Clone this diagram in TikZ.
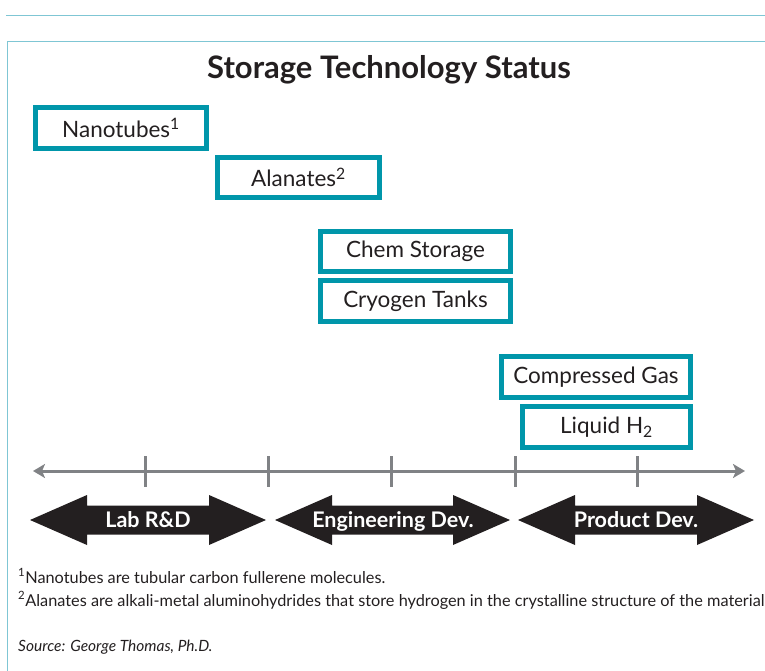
\documentclass[tikz,border=0pt]{standalone}
\usepackage{fontspec}
\setmainfont{Lato}
\usetikzlibrary{arrows.meta}
\definecolor{frameblue}{HTML}{7FC6D4}
\definecolor{teal}{HTML}{0096AA}
\definecolor{ink}{HTML}{231F20}
\definecolor{axisgray}{HTML}{808285}
\tikzset{
  techbox/.style={draw=teal, line width=5pt, fill=white, inner sep=0pt, text=ink, font=\fontsize{22.5}{24}\selectfont},
  phase/.style={fill=ink},
  phasetext/.style={text=white, anchor=base, inner sep=0pt, font=\bfseries\fontsize{21.5}{23}\selectfont},
  foot/.style={anchor=base west, inner sep=0pt, text=ink, font=\fontsize{16.3}{18}\selectfont},
}
\newcommand{\phasearrow}[2]{%
  \fill[phase] (#1,520) -- (#1+57,495) -- (#1+57,505.5) -- (#2-57,505.5) -- (#2-57,495) -- (#2,520) -- (#2-57,545) -- (#2-57,534.5) -- (#1+57,534.5) -- (#1+57,545) -- cycle;}
\begin{document}
\begin{tikzpicture}[x=1pt,y=-1pt]
\useasboundingbox (0,0) rectangle (765,671);
\draw[frameblue, line width=1.5pt] (6,15.5) -- (765,15.5);
\draw[frameblue, line width=1.5pt] (765,41.5) -- (7.5,41.5) -- (7.5,671);
\node[text=ink, font=\bfseries\fontsize{31}{33}\selectfont] (title) at (389,70) {Storage Technology Status};
\node[techbox, minimum width=171pt, minimum height=41pt] (nano) at (121,128) {Nanotubes\textsuperscript{1}};
\node[techbox, minimum width=162pt, minimum height=40pt] (alan) at (298.5,177.5) {Alanates\textsuperscript{2}};
\node[techbox, minimum width=190pt, minimum height=40pt] (chem) at (415.5,251.5) {Chem Storage};
\node[techbox, minimum width=190pt, minimum height=41pt] (cryo) at (415.5,301) {Cryogen Tanks};
\node[techbox, minimum width=189pt, minimum height=41pt] (comp) at (596,377) {Compressed Gas};
\node[techbox, minimum width=168pt, minimum height=41pt] (liq) at (606.5,427) {Liquid H\textsubscript{2}};
\coordinate (axl) at (33,471);
\coordinate (axr) at (745,471);
\draw[axisgray, line width=3pt, {Stealth[length=12pt,width=14pt,inset=3pt]}-{Stealth[length=12pt,width=14pt,inset=3pt]}] (axl) -- (axr);
\foreach \x in {145,268,391,515,637} \draw[axisgray, line width=3pt] (\x,456) -- (\x,487);
\phasearrow{30}{266}
\phasearrow{275}{510}
\phasearrow{518}{754}
\node[phasetext] (lab) at (148,527.5) {Lab R\&D};
\node[phasetext] (eng) at (393,527.5) {Engineering Dev.};
\node[phasetext] (prod) at (636,527.5) {Product Dev.};
\node[foot] (f1) at (18,583) {\textsuperscript{1}Nanotubes are tubular carbon fullerene molecules.};
\node[foot] (f2) at (18,606) {\textsuperscript{2}Alanates are alkali-metal aluminohydrides that store hydrogen in the crystalline structure of the material};
\node[foot, font=\itshape\fontsize{15.5}{17}\selectfont] (src) at (18,651) {Source: George Thomas, Ph.D.};
\end{tikzpicture}
\end{document}
